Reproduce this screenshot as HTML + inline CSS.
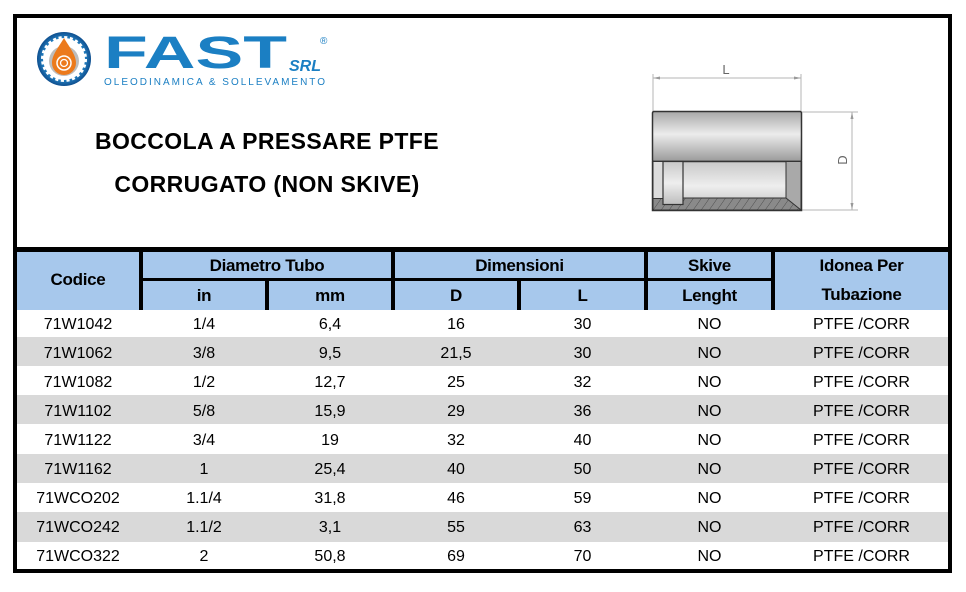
<!DOCTYPE html>
<html><head><meta charset="utf-8">
<style>
*{margin:0;padding:0;box-sizing:border-box}
body{width:966px;height:592px;background:#fff;position:relative;overflow:hidden;font-family:"Liberation Sans",Arial,sans-serif;color:#000}
.a{position:absolute}
.blk{position:absolute;background:#000}
.hd{position:absolute;font-weight:bold;font-size:17px;letter-spacing:-0.3px;text-align:center;line-height:20px;white-space:nowrap}
.cell{position:absolute;font-size:16px;text-align:center;line-height:18px;white-space:nowrap}
.title{position:absolute;font-weight:bold;font-size:23px;letter-spacing:0.4px;text-align:center;width:400px;left:67px;line-height:26px;white-space:nowrap}
</style></head><body>

<!-- outer frame -->
<div class="blk" style="left:13px;top:14px;width:939px;height:4px"></div>
<div class="blk" style="left:13px;top:569px;width:939px;height:4px"></div>
<div class="blk" style="left:13px;top:14px;width:4px;height:559px"></div>
<div class="blk" style="left:948px;top:14px;width:4px;height:559px"></div>

<!-- logo + drawing -->
<svg class="a" style="left:0;top:0" width="966" height="250" viewBox="0 0 966 250">
  <defs>
    <radialGradient id="rg" cx="50%" cy="50%" r="50%">
      <stop offset="0.7" stop-color="#2a8fd0"/>
      <stop offset="1" stop-color="#0f4f8f"/>
    </radialGradient>
    <linearGradient id="cyl" x1="0" y1="0" x2="0" y2="1">
      <stop offset="0" stop-color="#a8a8a8"/>
      <stop offset="0.45" stop-color="#ececec"/>
      <stop offset="1" stop-color="#9a9a9a"/>
    </linearGradient>
    <linearGradient id="bore" x1="0" y1="0" x2="0" y2="1">
      <stop offset="0" stop-color="#c8c8c8"/>
      <stop offset="0.5" stop-color="#eeeeee"/>
      <stop offset="1" stop-color="#bdbdbd"/>
    </linearGradient>
    <pattern id="hatch" width="8" height="12" patternUnits="userSpaceOnUse" patternTransform="skewX(-35)">
      <rect width="8" height="12" fill="#8a8a8a"/>
      <line x1="0" y1="0" x2="0" y2="12" stroke="#444" stroke-width="1"/>
    </pattern>
  </defs>
  <!-- logo circle -->
  <circle cx="64" cy="59" r="27" fill="url(#rg)"/>
  <circle cx="64" cy="59" r="21" fill="#fff" stroke="#fff" stroke-width="4" stroke-dasharray="3 2.5"/>
  <circle cx="64" cy="61" r="15" fill="#bdbdbd"/>
  <path d="M64 38 C58 48 52 55 52 63 A12 12 0 0 0 76 63 C76 55 70 48 64 38 Z" fill="#ec7a1c"/>
  <circle cx="64" cy="63" r="7" fill="none" stroke="#fff" stroke-width="1.5"/>
  <circle cx="64" cy="63" r="3.5" fill="none" stroke="#fff" stroke-width="1.3"/>
  <!-- FAST wordmark -->
  <text x="104" y="68" font-family="Liberation Sans, Arial, sans-serif" font-size="45" font-weight="bold" fill="#1b7fc3" textLength="183" lengthAdjust="spacingAndGlyphs">FAST</text>
  <text x="289" y="71" font-family="Liberation Sans, Arial, sans-serif" font-size="16" font-weight="bold" font-style="italic" fill="#1b7fc3">SRL</text>
  <text x="320" y="44" font-family="Liberation Sans, Arial, sans-serif" font-size="10" fill="#1b7fc3">®</text>
  <text x="104" y="85" font-family="Liberation Sans, Arial, sans-serif" font-size="10" fill="#1b7fc3" textLength="221" lengthAdjust="spacing">OLEODINAMICA &amp; SOLLEVAMENTO</text>

  <!-- product drawing -->
  <g stroke="#b5b5b5" stroke-width="1" fill="none">
    <line x1="653" y1="74" x2="653" y2="112"/>
    <line x1="801" y1="74" x2="801" y2="112"/>
    <line x1="653" y1="78" x2="801" y2="78"/>
    <line x1="802" y1="112" x2="858" y2="112"/>
    <line x1="802" y1="210" x2="858" y2="210"/>
    <line x1="852" y1="112" x2="852" y2="210"/>
  </g>
  <g fill="#999">
    <path d="M653 78 l7 -1.5 v3 z"/>
    <path d="M801 78 l-7 -1.5 v3 z"/>
    <path d="M852 112 l-1.5 7 h3 z"/>
    <path d="M852 210 l-1.5 -7 h3 z"/>
  </g>
  <text x="726" y="74" font-family="Liberation Sans, Arial, sans-serif" font-size="13" fill="#666" text-anchor="middle">L</text>
  <text x="0" y="0" font-family="Liberation Sans, Arial, sans-serif" font-size="13" fill="#666" text-anchor="middle" transform="translate(847 160) rotate(-90)">D</text>

  <rect x="652.5" y="111.5" width="149" height="50" fill="url(#cyl)" stroke="#333" stroke-width="1.5" rx="1.5"/>
  <rect x="652.5" y="161.5" width="149" height="49" fill="url(#bore)" stroke="#333" stroke-width="1.5"/>
  <rect x="653" y="198" width="148" height="12" fill="url(#hatch)" stroke="#333" stroke-width="1"/>
  <rect x="653" y="161.5" width="10" height="37" fill="#dcdcdc" stroke="#333" stroke-width="1"/>
  <rect x="663" y="161.5" width="20" height="43" fill="url(#bore)" stroke="#333" stroke-width="1.2"/>
  <path d="M786 161.5 L801 161.5 L801 210 L786 198 Z" fill="#a9a9a9" stroke="#333" stroke-width="1"/>
</svg>

<!-- title -->
<div class="title" style="top:128px">BOCCOLA A PRESSARE PTFE</div>
<div class="title" style="top:171px">CORRUGATO (NON SKIVE)</div>

<!-- header -->
<div class="blk" style="left:17px;top:247px;width:931px;height:5px"></div>
<div class="a" style="left:17px;top:252px;width:931px;height:58px;background:#a7c8ec"></div>
<!-- header horizontal divider -->
<div class="blk" style="left:139px;top:278px;width:636px;height:3px"></div>
<!-- full-height verticals -->
<div class="blk" style="left:139px;top:252px;width:4px;height:58px"></div>
<div class="blk" style="left:391px;top:252px;width:4px;height:58px"></div>
<div class="blk" style="left:644px;top:252px;width:4px;height:58px"></div>
<div class="blk" style="left:771px;top:252px;width:4px;height:58px"></div>
<!-- row2 verticals -->
<div class="blk" style="left:265px;top:281px;width:4px;height:29px"></div>
<div class="blk" style="left:517px;top:281px;width:4px;height:29px"></div>

<div class="hd" style="left:17px;width:122px;top:270px">Codice</div>
<div class="hd" style="left:143px;width:248px;top:256px">Diametro Tubo</div>
<div class="hd" style="left:395px;width:249px;top:256px">Dimensioni</div>
<div class="hd" style="left:648px;width:123px;top:256px">Skive</div>
<div class="hd" style="left:775px;width:173px;top:256px">Idonea Per</div>
<div class="hd" style="left:143px;width:122px;top:286px">in</div>
<div class="hd" style="left:269px;width:122px;top:286px">mm</div>
<div class="hd" style="left:395px;width:122px;top:286px">D</div>
<div class="hd" style="left:521px;width:123px;top:286px">L</div>
<div class="hd" style="left:648px;width:123px;top:286px">Lenght</div>
<div class="hd" style="left:775px;width:173px;top:285px">Tubazione</div>

<!-- gray rows -->
<div class="a" style="left:17px;top:337px;width:931px;height:29px;background:#d9d9d9"></div>
<div class="a" style="left:17px;top:395px;width:931px;height:29px;background:#d9d9d9"></div>
<div class="a" style="left:17px;top:454px;width:931px;height:29px;background:#d9d9d9"></div>
<div class="a" style="left:17px;top:512px;width:931px;height:30px;background:#d9d9d9"></div>

<!-- data -->
<div class="cell" style="left:17px;width:122px;top:316px">71W1042</div><div class="cell" style="left:143px;width:122px;top:316px">1/4</div><div class="cell" style="left:269px;width:122px;top:316px">6,4</div><div class="cell" style="left:395px;width:122px;top:316px">16</div><div class="cell" style="left:521px;width:123px;top:316px">30</div><div class="cell" style="left:648px;width:123px;top:316px">NO</div><div class="cell" style="left:775px;width:173px;top:316px">PTFE /CORR</div>
<div class="cell" style="left:17px;width:122px;top:345px">71W1062</div><div class="cell" style="left:143px;width:122px;top:345px">3/8</div><div class="cell" style="left:269px;width:122px;top:345px">9,5</div><div class="cell" style="left:395px;width:122px;top:345px">21,5</div><div class="cell" style="left:521px;width:123px;top:345px">30</div><div class="cell" style="left:648px;width:123px;top:345px">NO</div><div class="cell" style="left:775px;width:173px;top:345px">PTFE /CORR</div>
<div class="cell" style="left:17px;width:122px;top:374px">71W1082</div><div class="cell" style="left:143px;width:122px;top:374px">1/2</div><div class="cell" style="left:269px;width:122px;top:374px">12,7</div><div class="cell" style="left:395px;width:122px;top:374px">25</div><div class="cell" style="left:521px;width:123px;top:374px">32</div><div class="cell" style="left:648px;width:123px;top:374px">NO</div><div class="cell" style="left:775px;width:173px;top:374px">PTFE /CORR</div>
<div class="cell" style="left:17px;width:122px;top:403px">71W1102</div><div class="cell" style="left:143px;width:122px;top:403px">5/8</div><div class="cell" style="left:269px;width:122px;top:403px">15,9</div><div class="cell" style="left:395px;width:122px;top:403px">29</div><div class="cell" style="left:521px;width:123px;top:403px">36</div><div class="cell" style="left:648px;width:123px;top:403px">NO</div><div class="cell" style="left:775px;width:173px;top:403px">PTFE /CORR</div>
<div class="cell" style="left:17px;width:122px;top:432px">71W1122</div><div class="cell" style="left:143px;width:122px;top:432px">3/4</div><div class="cell" style="left:269px;width:122px;top:432px">19</div><div class="cell" style="left:395px;width:122px;top:432px">32</div><div class="cell" style="left:521px;width:123px;top:432px">40</div><div class="cell" style="left:648px;width:123px;top:432px">NO</div><div class="cell" style="left:775px;width:173px;top:432px">PTFE /CORR</div>
<div class="cell" style="left:17px;width:122px;top:461px">71W1162</div><div class="cell" style="left:143px;width:122px;top:461px">1</div><div class="cell" style="left:269px;width:122px;top:461px">25,4</div><div class="cell" style="left:395px;width:122px;top:461px">40</div><div class="cell" style="left:521px;width:123px;top:461px">50</div><div class="cell" style="left:648px;width:123px;top:461px">NO</div><div class="cell" style="left:775px;width:173px;top:461px">PTFE /CORR</div>
<div class="cell" style="left:17px;width:122px;top:490px">71WCO202</div><div class="cell" style="left:143px;width:122px;top:490px">1.1/4</div><div class="cell" style="left:269px;width:122px;top:490px">31,8</div><div class="cell" style="left:395px;width:122px;top:490px">46</div><div class="cell" style="left:521px;width:123px;top:490px">59</div><div class="cell" style="left:648px;width:123px;top:490px">NO</div><div class="cell" style="left:775px;width:173px;top:490px">PTFE /CORR</div>
<div class="cell" style="left:17px;width:122px;top:519px">71WCO242</div><div class="cell" style="left:143px;width:122px;top:519px">1.1/2</div><div class="cell" style="left:269px;width:122px;top:519px">3,1</div><div class="cell" style="left:395px;width:122px;top:519px">55</div><div class="cell" style="left:521px;width:123px;top:519px">63</div><div class="cell" style="left:648px;width:123px;top:519px">NO</div><div class="cell" style="left:775px;width:173px;top:519px">PTFE /CORR</div>
<div class="cell" style="left:17px;width:122px;top:548px">71WCO322</div><div class="cell" style="left:143px;width:122px;top:548px">2</div><div class="cell" style="left:269px;width:122px;top:548px">50,8</div><div class="cell" style="left:395px;width:122px;top:548px">69</div><div class="cell" style="left:521px;width:123px;top:548px">70</div><div class="cell" style="left:648px;width:123px;top:548px">NO</div><div class="cell" style="left:775px;width:173px;top:548px">PTFE /CORR</div>

</body></html>
